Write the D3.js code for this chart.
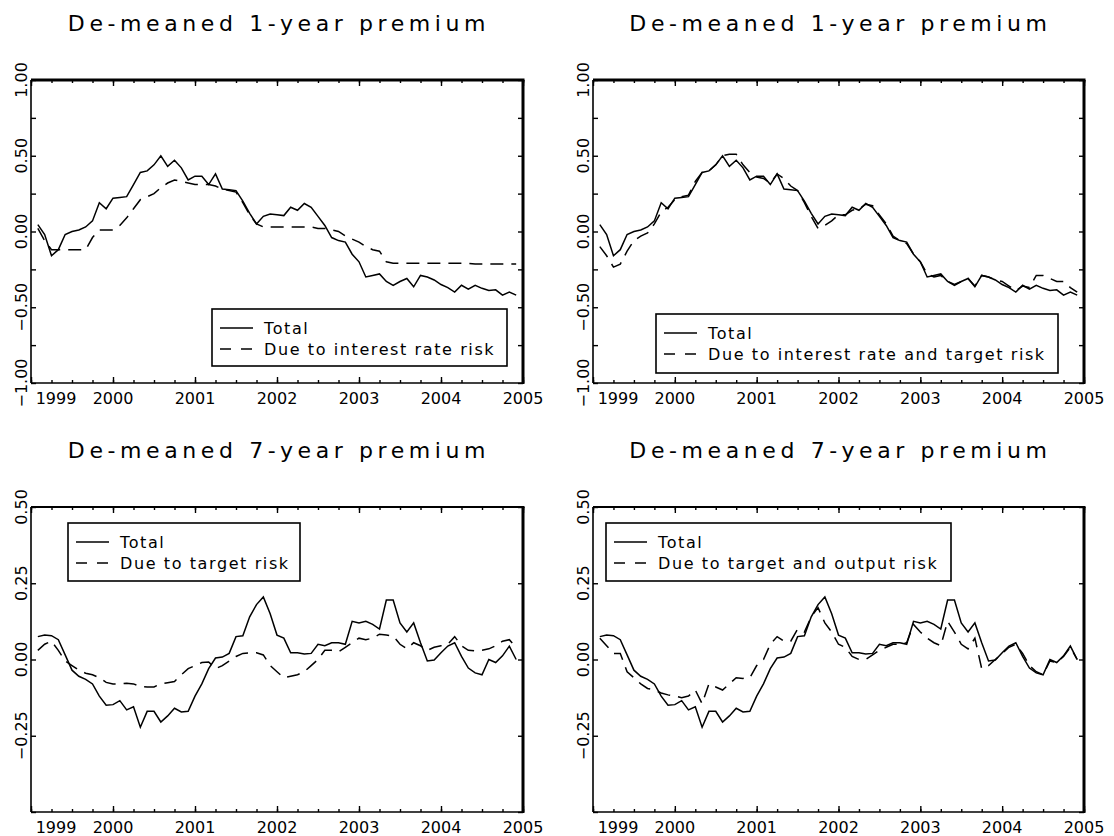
<!DOCTYPE html>
<html>
<head>
<meta charset="utf-8">
<script src="https://cdn.jsdelivr.net/npm/d3@7"></script>
<style>
  body { margin: 0; background: #fff; }
  text { font-family: "DejaVu Sans", sans-serif; fill: #000; }
  text.title { font-family: "DejaVu Sans ExtraLight", "DejaVu Sans", sans-serif; }
</style>
</head>
<body>
<svg id="chart" width="1114" height="836"></svg>
<script>
// Monthly observations, Feb 1999 - Dec 2004 (decimal years)
const months = d3.range(1, 72).map(m => 1999 + m / 12);
const yearTicks = [1999, 2000, 2001, 2002, 2003, 2004, 2005];
const quarterTicks = d3.range(0, 25).map(q => 1999 + q / 4);

// De-meaned 1-year premium
const total1y = [
  0.045, -0.02, -0.16, -0.12, -0.02, 0.00, 0.01, 0.03, 0.07, 0.19,
  0.15, 0.22, 0.225, 0.23, 0.31, 0.39, 0.40, 0.44, 0.50, 0.43,
  0.47, 0.42, 0.34, 0.365, 0.365, 0.31, 0.38, 0.28, 0.275, 0.27,
  0.20, 0.12, 0.05, 0.10, 0.115, 0.11, 0.105, 0.16, 0.14, 0.185,
  0.16, 0.10, 0.04, -0.04, -0.06, -0.07, -0.15, -0.20, -0.30, -0.29,
  -0.28, -0.33, -0.355, -0.33, -0.31, -0.365, -0.29, -0.30, -0.32, -0.35,
  -0.37, -0.40, -0.355, -0.38, -0.355, -0.375, -0.39, -0.385, -0.42, -0.40,
  -0.42
];
const interestRisk1y = [
  0.02, -0.06, -0.12, -0.12, -0.12, -0.12, -0.12, -0.12, -0.04, 0.01,
  0.01, 0.01, 0.04, 0.09, 0.15, 0.21, 0.23, 0.25, 0.29, 0.32,
  0.34, 0.33, 0.32, 0.31, 0.31, 0.31, 0.30, 0.28, 0.27, 0.26,
  0.19, 0.11, 0.05, 0.03, 0.03, 0.03, 0.03, 0.03, 0.03, 0.03,
  0.03, 0.02, 0.02, 0.01, 0.00, -0.03, -0.05, -0.07, -0.10, -0.12,
  -0.13, -0.20, -0.21, -0.21, -0.21, -0.21, -0.21, -0.21, -0.21, -0.21,
  -0.21, -0.21, -0.21, -0.21, -0.215, -0.215, -0.215, -0.215, -0.215, -0.215,
  -0.215
];
const interestTargetRisk1y = [
  -0.10, -0.16, -0.235, -0.215, -0.13, -0.06, -0.03, -0.01, 0.05, 0.13,
  0.16, 0.21, 0.23, 0.24, 0.33, 0.39, 0.40, 0.44, 0.50, 0.51,
  0.51, 0.44, 0.39, 0.36, 0.35, 0.32, 0.38, 0.35, 0.30, 0.27,
  0.19, 0.10, 0.02, 0.04, 0.07, 0.11, 0.11, 0.14, 0.15, 0.18,
  0.17, 0.11, 0.05, -0.03, -0.06, -0.08, -0.15, -0.20, -0.28, -0.30,
  -0.29, -0.33, -0.35, -0.33, -0.31, -0.36, -0.29, -0.30, -0.32, -0.33,
  -0.36, -0.39, -0.36, -0.37, -0.29, -0.29, -0.31, -0.33, -0.33, -0.37,
  -0.40
];

// De-meaned 7-year premium
const total7y = [
  0.075, 0.08, 0.078, 0.065, 0.015, -0.035, -0.055, -0.065, -0.08, -0.12,
  -0.15, -0.148, -0.135, -0.165, -0.155, -0.222, -0.17, -0.17, -0.205, -0.185,
  -0.16, -0.172, -0.17, -0.12, -0.08, -0.03, 0.005, 0.008, 0.02, 0.075,
  0.078, 0.14, 0.18, 0.205, 0.15, 0.08, 0.07, 0.022, 0.022, 0.018,
  0.02, 0.05, 0.045, 0.055, 0.055, 0.05, 0.125, 0.12, 0.125, 0.115,
  0.10, 0.195, 0.195, 0.12, 0.09, 0.12, 0.055, -0.005, -0.002, 0.022,
  0.044, 0.055, 0.01, -0.028, -0.044, -0.05, 0.00, -0.01, 0.012, 0.044,
  0.00
];
const targetRisk7y = [
  0.03, 0.05, 0.06, 0.03, -0.005, -0.02, -0.035, -0.045, -0.05, -0.06,
  -0.075, -0.08, -0.08, -0.078, -0.08, -0.088, -0.09, -0.09, -0.08, -0.076,
  -0.072, -0.05, -0.03, -0.02, -0.01, -0.008, -0.03, -0.02, -0.005, 0.01,
  0.02, 0.022, 0.022, 0.015, -0.02, -0.04, -0.06, -0.055, -0.05, -0.04,
  -0.02, 0.00, 0.03, 0.03, 0.025, 0.04, 0.055, 0.07, 0.065, 0.07,
  0.083, 0.08, 0.077, 0.05, 0.035, 0.055, 0.045, 0.03, 0.04, 0.045,
  0.05, 0.075, 0.045, 0.03, 0.028, 0.03, 0.035, 0.045, 0.06, 0.065,
  0.04
];
const targetOutputRisk7y = [
  0.07, 0.045, 0.02, 0.02, -0.04, -0.06, -0.08, -0.095, -0.10, -0.11,
  -0.116, -0.12, -0.125, -0.12, -0.10, -0.145, -0.08, -0.09, -0.10, -0.08,
  -0.06, -0.062, -0.06, -0.02, 0.00, 0.05, 0.075, 0.06, 0.06, 0.10,
  0.09, 0.14, 0.17, 0.12, 0.09, 0.05, 0.04, 0.01, 0.00, 0.00,
  0.015, 0.03, 0.04, 0.05, 0.05, 0.055, 0.115, 0.09, 0.07, 0.055,
  0.045, 0.125, 0.09, 0.05, 0.035, 0.07, -0.03, -0.02, 0.00, 0.02,
  0.04, 0.05, 0.02, -0.02, -0.04, -0.05, -0.005, -0.01, 0.01, 0.04,
  0.00
];

const svg = d3.select("#chart");
const fmt = d3.format(".2f");

const panels = [
  {
    title: "De-meaned 1-year premium",
    box: { left: 31, right: 523, top: 80, bottom: 383 },
    yDomain: [-1, 1], yTicks: d3.range(-1, 1.001, 0.25), yLabels: [-1, -0.5, 0, 0.5, 1],
    total: total1y, part: interestRisk1y,
    legend: { x: 212, y: 309, w: 295, h: 57, label: "Due to interest rate risk" },
    thickTop: true
  },
  {
    title: "De-meaned 1-year premium",
    box: { left: 593, right: 1084, top: 80, bottom: 383 },
    yDomain: [-1, 1], yTicks: d3.range(-1, 1.001, 0.25), yLabels: [-1, -0.5, 0, 0.5, 1],
    total: total1y, part: interestTargetRisk1y,
    legend: { x: 656, y: 314, w: 402, h: 59, label: "Due to interest rate and target risk" },
    thickTop: true
  },
  {
    title: "De-meaned 7-year premium",
    box: { left: 31, right: 523, top: 507, bottom: 812 },
    yDomain: [-0.5, 0.5], yTicks: d3.range(-0.5, 0.501, 0.25), yLabels: [-0.25, 0, 0.25, 0.5],
    total: total7y, part: targetRisk7y,
    legend: { x: 68, y: 523, w: 232, h: 58, label: "Due to target risk" },
    thickTop: false
  },
  {
    title: "De-meaned 7-year premium",
    box: { left: 593, right: 1084, top: 507, bottom: 812 },
    yDomain: [-0.5, 0.5], yTicks: d3.range(-0.5, 0.501, 0.25), yLabels: [-0.25, 0, 0.25, 0.5],
    total: total7y, part: targetOutputRisk7y,
    legend: { x: 606, y: 523, w: 345, h: 58, label: "Due to target and output risk" },
    thickTop: false
  }
];

panels.forEach((p, i) => {
  const b = p.box;
  const x = d3.scaleLinear().domain([1999, 2005]).range([b.left, b.right]);
  const y = d3.scaleLinear().domain(p.yDomain).range([b.bottom, b.top]);
  const g = svg.append("g");

  // panel title
  g.append("text").attr("class", "title")
    .attr("x", (b.left + b.right) / 2 + 2)
    .attr("y", b.top - 49)
    .attr("text-anchor", "middle")
    .style("font-size", "22px")
    .style("letter-spacing", "4.6px")
    .text(p.title);

  const clipId = "clip" + i;
  svg.append("clipPath").attr("id", clipId)
    .append("rect").attr("x", b.left).attr("y", b.top)
    .attr("width", b.right - b.left).attr("height", b.bottom - b.top);

  // inward ticks on all four sides
  const axisStyle = sel => {
    sel.select(".domain").remove();
    sel.selectAll("line").attr("stroke", "#000").attr("stroke-width", 1.4);
    sel.selectAll("text").remove();
  };
  g.append("g").attr("transform", `translate(0,${b.bottom})`)
    .call(d3.axisBottom(x).tickValues(quarterTicks).tickSize(-3)).call(axisStyle);
  g.append("g").attr("transform", `translate(0,${b.bottom})`)
    .call(d3.axisBottom(x).tickValues(yearTicks).tickSize(-6)).call(axisStyle);
  g.append("g").attr("transform", `translate(0,${b.top})`)
    .call(d3.axisTop(x).tickValues(quarterTicks).tickSize(-3)).call(axisStyle);
  g.append("g").attr("transform", `translate(0,${b.top})`)
    .call(d3.axisTop(x).tickValues(yearTicks).tickSize(-6)).call(axisStyle);
  g.append("g").attr("transform", `translate(${b.left},0)`)
    .call(d3.axisLeft(y).tickValues(p.yTicks).tickSize(-5)).call(axisStyle);
  g.append("g").attr("transform", `translate(${b.right},0)`)
    .call(d3.axisRight(y).tickValues(p.yTicks).tickSize(-5)).call(axisStyle);

  // year labels (first one pushed right, clear of the value labels)
  g.selectAll(".xl").data(yearTicks).join("text")
    .attr("x", (d, k) => x(d) + (k === 0 ? 25 : 0))
    .attr("y", b.bottom + 21)
    .attr("text-anchor", "middle")
    .style("font-size", "16px")
    .text(d => d);

  // value labels, rotated
  g.selectAll(".yl").data(p.yLabels).join("text")
    .attr("transform", d => `translate(${b.left - 4},${y(d)}) rotate(-90)`)
    .attr("text-anchor", "middle")
    .style("font-size", "16px")
    .text(d => fmt(d));

  // frame
  g.append("line").attr("x1", b.left).attr("x2", b.left).attr("y1", b.top).attr("y2", b.bottom)
    .attr("stroke", "#000").attr("stroke-width", 1.6);
  g.append("line").attr("x1", b.left).attr("x2", b.right).attr("y1", b.bottom).attr("y2", b.bottom)
    .attr("stroke", "#000").attr("stroke-width", 1.6);
  g.append("line").attr("x1", b.left).attr("x2", b.right + 1.5).attr("y1", b.top).attr("y2", b.top)
    .attr("stroke", "#000").attr("stroke-width", p.thickTop ? 3.2 : 2);
  g.append("line").attr("x1", b.right).attr("x2", b.right).attr("y1", b.top).attr("y2", b.bottom + 1)
    .attr("stroke", "#000").attr("stroke-width", 3);

  // series
  const line = d3.line().x((d, k) => x(months[k])).y(d => y(d));
  g.append("path").datum(p.part)
    .attr("clip-path", `url(#${clipId})`)
    .attr("d", line).attr("fill", "none").attr("stroke", "#000")
    .attr("stroke-width", 1.5).attr("stroke-dasharray", "13,8");
  g.append("path").datum(p.total)
    .attr("clip-path", `url(#${clipId})`)
    .attr("d", line).attr("fill", "none").attr("stroke", "#000")
    .attr("stroke-width", 1.5);

  // legend
  const L = p.legend;
  const lg = g.append("g");
  lg.append("rect").attr("x", L.x).attr("y", L.y).attr("width", L.w).attr("height", L.h)
    .attr("fill", "#fff").attr("stroke", "#000").attr("stroke-width", 1.6);
  const rows = [{ label: "Total", dash: null }, { label: L.label, dash: "11,10" }];
  rows.forEach((r, k) => {
    const ry = L.y + 19 + k * 21;
    lg.append("line").attr("x1", L.x + 8).attr("x2", L.x + 41).attr("y1", ry).attr("y2", ry)
      .attr("stroke", "#000").attr("stroke-width", 1.5)
      .attr("stroke-dasharray", r.dash);
    lg.append("text").attr("x", L.x + 52).attr("y", ry + 6)
      .style("font-size", "16px").style("letter-spacing", "1.6px")
      .text(r.label);
  });
});
</script>
</body>
</html>
